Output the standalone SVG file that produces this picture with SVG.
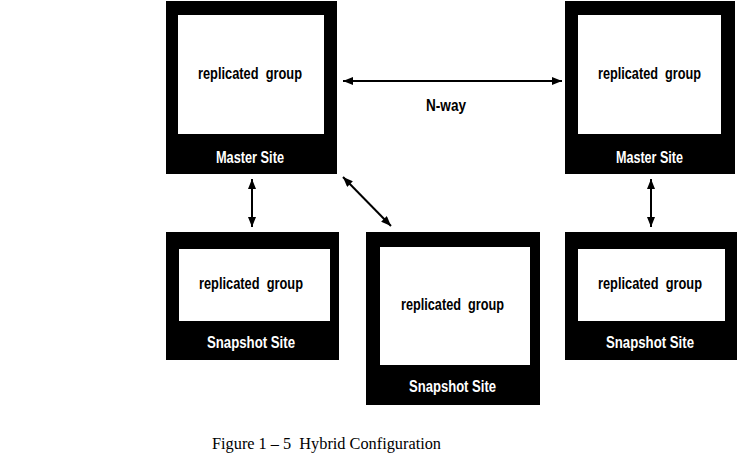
<svg xmlns="http://www.w3.org/2000/svg" width="740" height="457" viewBox="0 0 740 457">
<defs>
<marker id="ah" viewBox="0 0 10 8" refX="10" refY="4" markerWidth="10" markerHeight="8" markerUnits="userSpaceOnUse" orient="auto-start-reverse">
<path d="M0,0 L10,4 L0,8 Z" fill="#000"/>
</marker>
</defs>
<style>
.outer{fill:#000}
.inner{fill:#fff}
.lbl{font-family:"Liberation Sans",Arial,sans-serif;font-size:16px;font-weight:bold;text-anchor:middle;white-space:pre}
.grp{fill:#000}
.site{fill:#fff}
.conn{stroke:#000;stroke-width:2;fill:none;marker-start:url(#ah);marker-end:url(#ah)}
.cap{font-family:"Liberation Serif","Times New Roman",serif;font-size:16px;fill:#000;white-space:pre}
</style>
<rect width="740" height="457" fill="#fff"/>
<g id="master1">
<rect class="outer" x="166" y="1" width="171" height="173"/>
<rect class="inner" x="178" y="15" width="146" height="119"/>
<text class="lbl grp" x="250" y="79" textLength="104" lengthAdjust="spacingAndGlyphs">replicated  group</text>
<text class="lbl site" x="250" y="163" textLength="68" lengthAdjust="spacingAndGlyphs">Master Site</text>
</g>
<g id="master2">
<rect class="outer" x="565" y="1" width="170" height="173"/>
<rect class="inner" x="578" y="15" width="143" height="119"/>
<text class="lbl grp" x="649.5" y="79" textLength="103" lengthAdjust="spacingAndGlyphs">replicated  group</text>
<text class="lbl site" x="649.5" y="163" textLength="67" lengthAdjust="spacingAndGlyphs">Master Site</text>
</g>
<g id="snapshot1">
<rect class="outer" x="166" y="232" width="173" height="128"/>
<rect class="inner" x="179" y="249" width="151" height="72"/>
<text class="lbl grp" x="251" y="289" textLength="104" lengthAdjust="spacingAndGlyphs">replicated  group</text>
<text class="lbl site" x="251" y="348" textLength="88" lengthAdjust="spacingAndGlyphs">Snapshot Site</text>
</g>
<g id="snapshot2">
<rect class="outer" x="366" y="232" width="174" height="173"/>
<rect class="inner" x="380" y="247" width="150" height="118"/>
<text class="lbl grp" x="452.5" y="310" textLength="103" lengthAdjust="spacingAndGlyphs">replicated  group</text>
<text class="lbl site" x="452.5" y="392" textLength="87" lengthAdjust="spacingAndGlyphs">Snapshot Site</text>
</g>
<g id="snapshot3">
<rect class="outer" x="565" y="232" width="172" height="128"/>
<rect class="inner" x="578" y="249" width="147" height="72"/>
<text class="lbl grp" x="650" y="289" textLength="104" lengthAdjust="spacingAndGlyphs">replicated  group</text>
<text class="lbl site" x="650" y="348" textLength="88" lengthAdjust="spacingAndGlyphs">Snapshot Site</text>
</g>
<g id="connectors">
<line class="conn" x1="343" y1="81" x2="562" y2="81"/>
<text class="lbl grp" x="446" y="111" textLength="40" lengthAdjust="spacingAndGlyphs">N-way</text>
<line class="conn" x1="343" y1="177" x2="391" y2="226"/>
<line class="conn" x1="252" y1="179" x2="252" y2="227"/>
<line class="conn" x1="651" y1="179" x2="651" y2="227"/>
</g>
<text class="cap" x="212" y="449" textLength="229" lengthAdjust="spacingAndGlyphs">Figure 1 – 5  Hybrid Configuration</text>
</svg>
